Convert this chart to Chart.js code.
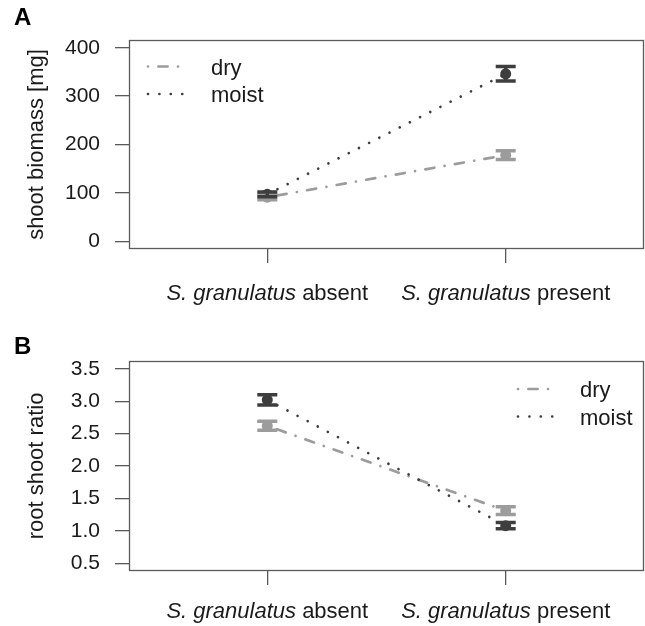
<!DOCTYPE html>
<html><head><meta charset="utf-8">
<script src="https://cdn.jsdelivr.net/npm/chart.js@4/dist/chart.umd.min.js"></script>
<style>
html,body{margin:0;padding:0;background:#fff;}
#wrap{position:relative;width:645px;height:626px;overflow:hidden;}
canvas{position:absolute;left:0;}
</style></head><body>
<div id="wrap">
<canvas id="cA" width="645" height="313" style="top:0"></canvas>
<canvas id="cB" width="645" height="313" style="top:313px"></canvas>
</div>
<script>
// ---------- data ----------
const categories = ['absent', 'present'];
const categoryPos = [1, 2];
const seriesNames = ['dry', 'moist'];
// Panel A: shoot biomass [mg]
const dryBiomass = [91, 178];
const dryBiomassErr = [5, 9];
const moistBiomass = [97, 346];
const moistBiomassErr = [5, 15];
const biomassTicks = [0, 100, 200, 300, 400];
// Panel B: root shoot ratio
const dryRatio = [2.62, 1.31];
const dryRatioErr = [0.07, 0.06];
const moistRatio = [3.02, 1.08];
const moistRatioErr = [0.08, 0.05];
const ratioTicks = [0.5, 1.0, 1.5, 2.0, 2.5, 3.0, 3.5];

// ---------- styles ----------
const FONT = '"Liberation Sans", Arial, Helvetica, sans-serif';
const TXT = '#1a1a1a';
const AXC = '#5a5a5a';
const DRY_C = '#9c9c9c';
const MOIST_C = '#3e3e3e';
const DRY_DASH = [0.01, 10.4, 9.2, 10.4];
const MOIST_DASH = [0.01, 11.4];
const LW = 2.7;

function makePanel(id, p) {
  const pts = (arr) => arr.map((v, i) => ({x: categoryPos[i], y: v}));
  const errPlugin = {
    id: 'errbars',
    afterDatasetsDraw(chart) {
      const ctx = chart.ctx, xs = chart.scales.x, ys = chart.scales.y;
      const sets = [[p.dry, p.dryErr, DRY_C], [p.moist, p.moistErr, MOIST_C]];
      ctx.save();
      ctx.setLineDash([]);
      sets.forEach(([vals, errs, col]) => {
        vals.forEach((v, i) => {
          const x = xs.getPixelForValue(categoryPos[i]);
          const y1 = ys.getPixelForValue(v - errs[i]);
          const y2 = ys.getPixelForValue(v + errs[i]);
          ctx.strokeStyle = col; ctx.lineWidth = 3.5; ctx.lineCap = 'butt';
          ctx.beginPath();
          ctx.moveTo(x, y1); ctx.lineTo(x, y2);
          ctx.moveTo(x - 10, y1); ctx.lineTo(x + 10, y1);
          ctx.moveTo(x - 10, y2); ctx.lineTo(x + 10, y2);
          ctx.stroke();
        });
      });
      ctx.restore();
    }
  };
  const decoPlugin = {
    id: 'deco',
    afterDraw(chart) {
      const ctx = chart.ctx, a = chart.chartArea, xs = chart.scales.x;
      ctx.save();
      // box
      ctx.strokeStyle = AXC; ctx.lineWidth = 1.3; ctx.setLineDash([]);
      ctx.strokeRect(a.left + 0.5, a.top + 0.5, a.right - a.left - 1, a.bottom - a.top - 1);
      // panel letter
      ctx.fillStyle = '#000';
      ctx.font = 'bold 24px ' + FONT;
      ctx.textBaseline = 'alphabetic'; ctx.textAlign = 'left';
      ctx.fillText(p.letter, 14, p.letterBase);
      // category labels (italic genus + plain state)
      ctx.fillStyle = TXT;
      categories.forEach((c, i) => {
        const x = xs.getPixelForValue(categoryPos[i]);
        const it = 'S. granulatus ';
        ctx.font = 'italic 22px ' + FONT;
        const w1 = ctx.measureText(it).width;
        ctx.font = '22px ' + FONT;
        const w2 = ctx.measureText(c).width;
        const x0 = x - (w1 + w2) / 2;
        ctx.font = 'italic 22px ' + FONT;
        ctx.fillText(it, x0, p.labelBase);
        ctx.font = '22px ' + FONT;
        ctx.fillText(c, x0 + w1, p.labelBase);
      });
      // legend
      const items = [[seriesNames[0], DRY_C, DRY_DASH, p.leg.y1], [seriesNames[1], MOIST_C, MOIST_DASH, p.leg.y2]];
      items.forEach(([name, col, dash, y]) => {
        ctx.strokeStyle = col; ctx.lineWidth = LW; ctx.lineCap = 'round';
        ctx.setLineDash(dash);
        ctx.beginPath(); ctx.moveTo(p.leg.x1, y); ctx.lineTo(p.leg.x2, y); ctx.stroke();
        ctx.setLineDash([]);
        ctx.fillStyle = TXT; ctx.font = '22px ' + FONT;
        ctx.fillText(name, p.leg.tx, y + 8);
      });
      ctx.restore();
    }
  };
  return new Chart(document.getElementById(id), {
    type: 'line',
    data: {
      datasets: [
        {label: seriesNames[0], data: pts(p.dry), borderColor: DRY_C, backgroundColor: DRY_C,
         borderWidth: LW, borderDash: DRY_DASH, borderCapStyle: 'round', pointRadius: 5.5,
         pointBorderWidth: 0, pointBackgroundColor: DRY_C, tension: 0, order: 1},
        {label: seriesNames[1], data: pts(p.moist), borderColor: MOIST_C, backgroundColor: MOIST_C,
         borderWidth: LW, borderDash: MOIST_DASH, borderCapStyle: 'round', pointRadius: 5.5,
         pointBorderWidth: 0, pointBackgroundColor: MOIST_C, tension: 0, order: 0}
      ]
    },
    options: {
      responsive: false, animation: false, devicePixelRatio: 1,
      layout: {autoPadding: false, padding: {top: p.top, right: 1, left: 0, bottom: 0}},
      plugins: {legend: {display: false}, tooltip: {enabled: false}},
      scales: {
        x: {
          type: 'linear', min: 0.42, max: 2.58,
          afterBuildTicks: (ax) => { ax.ticks = categoryPos.map(v => ({value: v})); },
          afterFit: (ax) => { ax.height = p.xh; },
          ticks: {display: false},
          grid: {drawOnChartArea: false, drawTicks: true, tickLength: 14, color: AXC, lineWidth: 1.3},
          border: {display: false}
        },
        y: {
          type: 'linear', min: p.ymin, max: p.ymax,
          afterBuildTicks: (ax) => { ax.ticks = p.ticks.map(v => ({value: v})); },
          afterFit: (ax) => { ax.width = 129; },
          ticks: {autoSkip: false, padding: 15, color: TXT, font: {family: FONT, size: 21},
                  callback: (v) => p.fmt(v)},
          grid: {drawOnChartArea: false, drawTicks: true, tickLength: 14, color: AXC, lineWidth: 1.3},
          border: {display: false},
          title: {display: true, text: p.title, color: TXT, font: {family: FONT, size: 22},
                  padding: {top: 24, bottom: 0}}
        }
      }
    },
    plugins: [errPlugin, decoPlugin]
  });
}

makePanel('cA', {
  dry: dryBiomass, dryErr: dryBiomassErr, moist: moistBiomass, moistErr: moistBiomassErr,
  ticks: biomassTicks, ymin: -16, ymax: 416, fmt: (v) => String(v),
  title: 'shoot biomass [mg]', letter: 'A', letterBase: 25,
  top: 40, xh: 64, labelBase: 300,
  leg: {x1: 148, x2: 183, tx: 211, y1: 66.5, y2: 94}
});
makePanel('cB', {
  dry: dryRatio, dryErr: dryRatioErr, moist: moistRatio, moistErr: moistRatioErr,
  ticks: ratioTicks, ymin: 0.38, ymax: 3.62, fmt: (v) => v.toFixed(1),
  title: 'root shoot ratio', letter: 'B', letterBase: 41,
  top: 48, xh: 55, labelBase: 305,
  leg: {x1: 518, x2: 553, tx: 580, y1: 76, y2: 103.5}
});
</script>
</body></html>
